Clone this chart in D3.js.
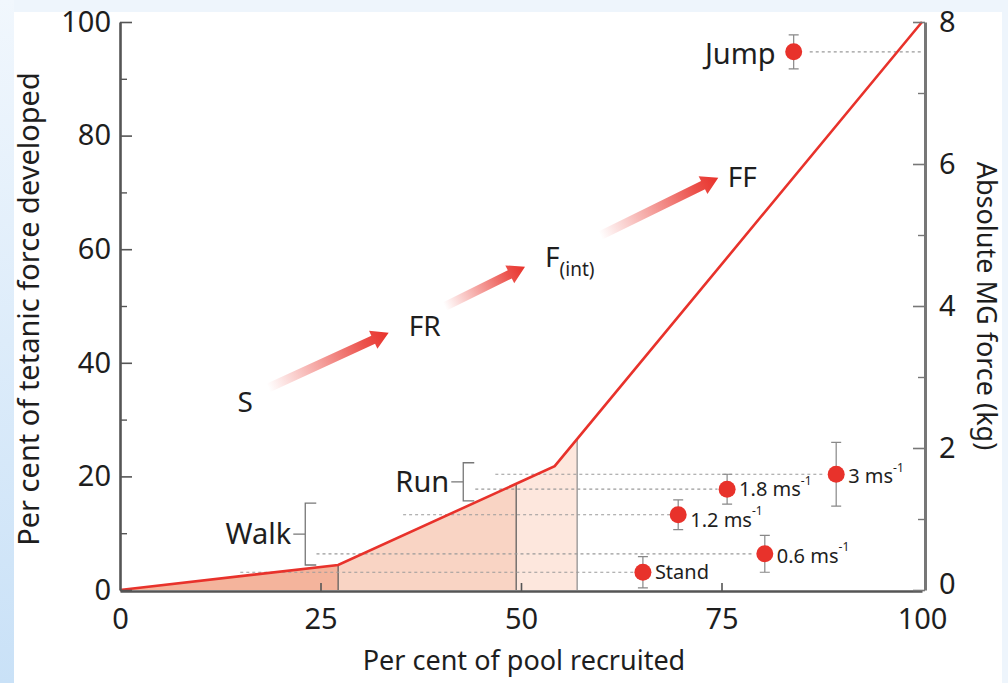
<!DOCTYPE html>
<html>
<head>
<meta charset="utf-8">
<script src="https://cdn.jsdelivr.net/npm/d3@7"></script>
<style>
  html, body { margin: 0; padding: 0; }
  body { width: 1008px; height: 683px; overflow: hidden; background: #eef5fc; }
  svg { display: block; }
  text { font-family: "Noto Sans", "Open Sans", sans-serif; fill: #1e1e1e; }
</style>
</head>
<body>
<svg id="chart" width="1008" height="683"></svg>
<script>
// Recruitment curve: per cent of motor pool recruited vs per cent of tetanic force
const curvePool  = [0, 27.2, 54.2, 100];
const curveForce = [0, 4.4, 21.8, 100];

// Shaded recruitment bands (pool %)
const bandEdges  = [0, 27.2, 49.4, 57];
const bandColors = ["#f4b49c", "#f9d4c4", "#fde7dd"];

// Measured tasks: pool % and absolute force (kg) with error
const taskNames  = ["Stand", "0.6 ms", "1.2 ms", "1.8 ms", "3 ms", "Jump"];
const taskPool   = [65.2, 80.4, 69.6, 75.7, 89.3, 84.0];
const taskKg     = [0.25, 0.51, 1.06, 1.42, 1.63, 7.58];
const taskErr    = [0.22, 0.26, 0.21, 0.21, 0.45, 0.24];
const taskSup    = ["", "-1", "-1", "-1", "-1", ""];
// Where each dashed guide starts and ends (pool %)
const guideFrom  = [15.0, 24.5, 35.3, 44.3, 46.8, 86.0];
const guideTo    = [64.0, 79.0, 69.0, 74.5, 87.7, 100];

// Gait brackets (per cent of tetanic force)
const gaitNames  = ["Walk", "Run"];
const gaitLow    = [4.4, 15.7];
const gaitHigh   = [15.3, 22.4];
const gaitAt     = [23.1, 42.8];

// Fibre-type progression arrows (pool %, force %)
const fibreLabels = ["S", "FR", "F", "FF"];
const fibreLabelX = [15.6, 38.0, 53.0, 77.6];
const fibreLabelY = [33.0, 46.5, 58.6, 72.7];
const arrowFromX = [18.5, 40.5, 59.9];
const arrowFromY = [35.6, 49.9, 62.4];
const arrowToX   = [33.5, 50.5, 74.6];
const arrowToY   = [45.3, 56.9, 72.6];

// Axis ticks
const leftMajor  = [0, 20, 40, 60, 80, 100];
const leftMinor  = [10, 30, 50, 70, 90];
const rightMajor = [0, 2, 4, 6, 8];
const rightMinor = [1, 3, 5, 7];
const bottomTicks = [0, 25, 50, 75, 100];

const svg = d3.select("#chart");
const red = "#e8322b";
const FONT = "Noto Sans, Open Sans, sans-serif";

// page frame
const defs = svg.append("defs");
const side = defs.append("linearGradient").attr("id", "side").attr("x1", 0).attr("y1", 0).attr("x2", 0).attr("y2", 1);
side.append("stop").attr("offset", "0%").attr("stop-color", "#f1f7fd");
side.append("stop").attr("offset", "100%").attr("stop-color", "#c9e1f7");
svg.append("rect").attr("width", 1008).attr("height", 683).attr("fill", "#eef5fc");
svg.append("rect").attr("x", 0).attr("y", 0).attr("width", 14).attr("height", 683).attr("fill", "url(#side)");
svg.append("rect").attr("x", 14).attr("y", 12).attr("width", 988).attr("height", 671).attr("fill", "#ffffff");

const x = d3.scaleLinear().domain([0, 100]).range([120, 922]);
const y = d3.scaleLinear().domain([0, 100]).range([590, 22]);
const yKg = d3.scaleLinear().domain([0, 8]).range([590, 22]);

// force on the recruitment curve at a given pool %
const forceAt = p => {
  const i = Math.min(d3.bisectRight(curvePool, p) - 1, curvePool.length - 2);
  const t = (p - curvePool[i]) / (curvePool[i + 1] - curvePool[i]);
  return curveForce[i] + t * (curveForce[i + 1] - curveForce[i]);
};

// bands under the curve
const area = d3.area().x(d => x(d)).y0(y(0)).y1(d => y(forceAt(d)));
for (let b = 0; b < bandColors.length; b++) {
  const a = bandEdges[b], c = bandEdges[b + 1];
  const pts = [a, ...curvePool.filter(p => p > a && p < c), c];
  svg.append("path").attr("d", area(pts)).attr("fill", bandColors[b]);
}
bandEdges.slice(1).forEach((p, i) => {
  svg.append("line")
    .attr("x1", x(p)).attr("x2", x(p))
    .attr("y1", y(0)).attr("y2", y(forceAt(p)))
    .attr("stroke", i === 2 ? "#8a8a8a" : "#555").attr("stroke-width", 1.2);
});

// dashed guides
taskKg.forEach((v, i) => {
  svg.append("line")
    .attr("x1", x(guideFrom[i])).attr("x2", x(guideTo[i]))
    .attr("y1", yKg(v)).attr("y2", yKg(v))
    .attr("stroke", "#9a9a9a").attr("stroke-width", 1.2)
    .attr("stroke-dasharray", "3,3");
});

// recruitment curve
svg.append("path")
  .datum(d3.zip(curvePool, curveForce))
  .attr("d", d3.line().x(d => x(d[0])).y(d => y(d[1])))
  .attr("fill", "none").attr("stroke", red).attr("stroke-width", 2.6);

// axes
function styleAxis(g, w, col) {
  g.attr("font-size", 29).attr("font-family", FONT);
  g.select(".domain").attr("stroke", col).attr("stroke-width", w);
  g.selectAll(".tick line").attr("stroke", col).attr("stroke-width", 1.6);
  g.selectAll(".tick text").attr("fill", "#1e1e1e");
}
function minor(g, col) {
  g.select(".domain").remove();
  g.selectAll("line").attr("stroke", col).attr("stroke-width", 1.4);
}
const gl = svg.append("g").attr("transform", `translate(${x(0)},0)`)
  .call(d3.axisLeft(y).tickValues(leftMajor).tickSizeInner(-12).tickSizeOuter(0).tickPadding(9));
styleAxis(gl, 2.6, "#555");
svg.append("g").attr("transform", `translate(${x(0)},0)`)
  .call(d3.axisLeft(y).tickValues(leftMinor).tickSizeInner(-7).tickSizeOuter(0).tickFormat(""))
  .call(g => minor(g, "#555"));

const gb = svg.append("g").attr("transform", `translate(0,${y(0) + 1})`)
  .call(d3.axisBottom(x).tickValues(bottomTicks).tickSizeInner(-8).tickSizeOuter(0).tickPadding(17));
styleAxis(gb, 2.6, "#555");
gb.selectAll(".tick line").filter(d => d === 0 || d === 100).remove();

const gr = svg.append("g").attr("transform", `translate(${x(100) + 3},0)`)
  .call(d3.axisRight(yKg).tickValues(rightMajor).tickSizeInner(-12).tickSizeOuter(0).tickPadding(14));
styleAxis(gr, 3, "#777");
svg.append("g").attr("transform", `translate(${x(100) + 3},0)`)
  .call(d3.axisRight(yKg).tickValues(rightMinor).tickSizeInner(-7).tickSizeOuter(0).tickFormat(""))
  .call(g => minor(g, "#777"));
// the zero label sits a touch higher so it clears the "100" beneath it
gr.selectAll(".tick text").filter(d => d === 0).attr("dy", "0.12em");

// axis titles
svg.append("text").attr("x", 524).attr("y", 670).attr("text-anchor", "middle")
  .attr("font-size", 27).text("Per cent of pool recruited");
svg.append("text").attr("transform", "translate(39,309) rotate(-90)").attr("text-anchor", "middle")
  .attr("font-size", 29).text("Per cent of tetanic force developed");
svg.append("text").attr("transform", "translate(977,306) rotate(90)").attr("text-anchor", "middle")
  .attr("font-size", 27).text("Absolute MG force (kg)");

// gait brackets
gaitNames.forEach((n, i) => {
  const bx = x(gaitAt[i]), t = y(gaitHigh[i]), b = y(gaitLow[i]), m = (t + b) / 2;
  svg.append("path")
    .attr("d", `M${bx + 11},${t}H${bx}V${b}H${bx + 11}M${bx},${m}H${bx - 12}`)
    .attr("fill", "none").attr("stroke", "#777").attr("stroke-width", 1.3);
  svg.append("text").attr("x", bx - 14).attr("y", m).attr("dy", "0.35em")
    .attr("text-anchor", "end").attr("font-size", 29).text(n);
});

// fibre-type arrows with fading shafts
arrowFromX.forEach((_, i) => {
  const x1 = x(arrowFromX[i]), y1 = y(arrowFromY[i]), x2 = x(arrowToX[i]), y2 = y(arrowToY[i]);
  const len = Math.hypot(x2 - x1, y2 - y1);
  const ang = Math.atan2(y2 - y1, x2 - x1) * 180 / Math.PI;
  const gid = "fade" + i;
  const lg = defs.append("linearGradient").attr("id", gid)
    .attr("gradientUnits", "userSpaceOnUse").attr("x1", 0).attr("y1", 0).attr("x2", len).attr("y2", 0);
  lg.append("stop").attr("offset", "0%").attr("stop-color", red).attr("stop-opacity", 0);
  lg.append("stop").attr("offset", "80%").attr("stop-color", red).attr("stop-opacity", 0.85);
  lg.append("stop").attr("offset", "100%").attr("stop-color", red).attr("stop-opacity", 1);
  const hw = 4.5, hl = 17, hh = 10;
  const shape = `M0,${-hw}L${len - hl},${-hw}L${len - hl},${-hh}L${len},0L${len - hl},${hh}L${len - hl},${hw}L0,${hw}Z`;
  svg.append("g").attr("transform", `translate(${x1},${y1}) rotate(${ang})`)
    .append("path").attr("d", shape).attr("fill", `url(#${gid})`);
});
fibreLabels.forEach((n, i) => {
  const t = svg.append("text").attr("x", x(fibreLabelX[i])).attr("y", y(fibreLabelY[i]))
    .attr("dy", "0.35em").attr("font-size", 28)
    .attr("text-anchor", n === "F" ? "start" : "middle").text(n);
  if (n === "F") t.append("tspan").attr("font-size", 19).attr("dy", "0.5em").text("(int)");
});

// task points with error bars
const labelShift = [0, 2, 5, 0, 2, 2];
taskKg.forEach((v, i) => {
  const cx = x(taskPool[i]), lo = yKg(v - taskErr[i]), hi = yKg(v + taskErr[i]);
  svg.append("path")
    .attr("d", `M${cx},${lo}V${hi}M${cx - 5},${lo}H${cx + 5}M${cx - 5},${hi}H${cx + 5}`)
    .attr("stroke", "#888").attr("stroke-width", 1.2).attr("fill", "none");
  svg.append("circle").attr("cx", cx).attr("cy", yKg(v)).attr("r", 8.5).attr("fill", red);
  const big = taskNames[i] === "Jump";
  const t = svg.append("text")
    .attr("x", big ? cx - 18 : cx + 12).attr("y", yKg(v) + labelShift[i])
    .attr("dy", "0.35em").attr("text-anchor", big ? "end" : "start")
    .attr("font-size", big ? 29 : 20).text(taskNames[i]);
  if (taskSup[i]) t.append("tspan").attr("font-size", 12).attr("dy", "-0.95em").text(taskSup[i]);
});
</script>
</body>
</html>
